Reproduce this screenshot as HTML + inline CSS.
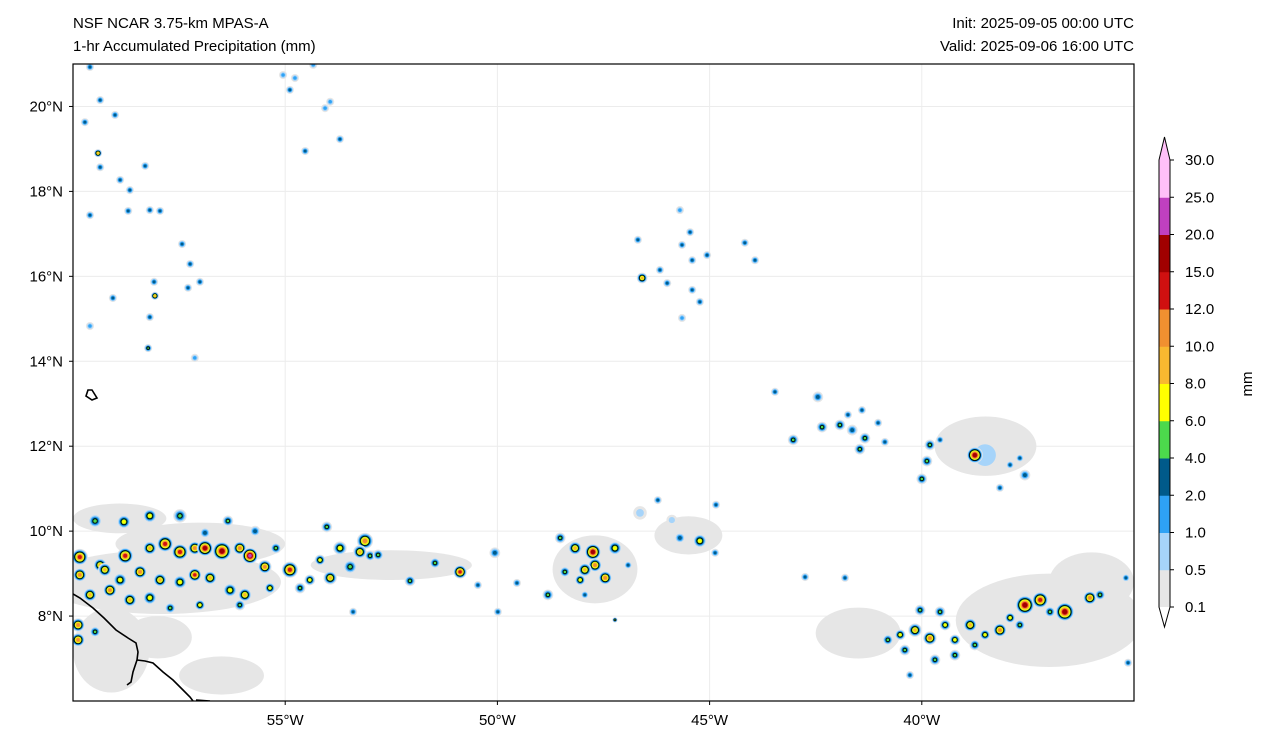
<!DOCTYPE html>
<html><head><meta charset="utf-8"><style>
body{margin:0;background:#fff;width:1268px;height:745px;overflow:hidden;font-family:"Liberation Sans",sans-serif}
svg text{font-family:"Liberation Sans",sans-serif;font-size:15px;fill:#000}
</style></head><body>
<svg id="c" width="1268" height="745"></svg>
<script>
const lonTicks=[-55,-50,-45,-40];
const latTicks=[8,10,12,14,16,18,20];
const cbLevels=[0.1,0.5,1,2,4,6,8,10,12,15,20,25,30];
const cbColors=["#e6e6e6","#a6d4fa","#2ea2f5","#005a8a","#4cd94c","#ffff00","#f8b830","#f09030","#d01010","#a00000","#c040c0","#ffc0f8"];
const stLon=[];const stLat=[];const stVal=[];const stSize=[];
const raw=[[95,521,5,5],[124,522,6,5],[150,516,6,5],[180,516,5,5],[205,533,3,4],[228,521,5,4],[255,531,3,4],[276,548,5,4],
[80,557,13,6],[100,565,8,5],[125,556,12,6],[150,548,8,5],[165,544,14,6],[180,552,12,6],[195,548,10,5],[205,548,16,6],[222,551,16,7],[240,548,10,5],[250,556,20,6],[265,567,10,5],[290,570,12,6],
[80,575,10,5],[105,570,8,5],[120,580,6,5],[140,572,10,5],[160,580,8,5],[180,582,6,5],[195,575,12,5],[210,578,8,5],[230,590,6,5],[245,595,8,5],[270,588,6,4],
[90,595,8,5],[110,590,10,5],[130,600,8,5],[150,598,6,5],[170,608,5,4],[200,605,6,4],[240,605,5,4],[78,625,10,5],[78,640,10,5],[95,632,5,4],
[327,527,5,4],[365,541,10,6],[340,548,6,5],[360,552,8,5],[370,556,5,4],[320,560,6,4],[350,567,5,5],[310,580,6,4],[330,578,8,5],[300,588,5,4],[378,555,5,4],[410,581,5,4],[353,612,3,3],
[435,563,5,4],[460,572,14,5],[478,585,3,3],[495,553,3,4],[517,583,3,3],[498,612,3,3],
[560,538,5,4],[575,548,8,5],[593,552,16,6],[615,548,6,5],[595,565,10,5],[585,570,8,5],[605,578,10,5],[580,580,6,4],[565,572,5,4],[548,595,5,4],[585,595,3,3],[628,565,3,3],[615,620,4,2],
[658,500,3,3],[680,538,3,4],[700,541,6,5],[716,505,3,3],[715,553,3,3],[640,513,0.8,5],[672,520,0.8,4],
[775,392,3,3],[818,397,3,4],[793,440,5,4],[822,427,5,4],[840,425,5,4],[848,415,3,3],[862,410,3,3],[865,438,5,4],[878,423,3,3],[860,449,5,4],[852,430,3,4],[885,442,3,3],
[985,455,0.8,14],[930,445,5,4],[927,461,5,4],[940,440,3,3],[975,455,16,6],[922,479,5,4],[1000,488,3,3],[1010,465,3,3],[1025,475,3,4],[1020,458,3,3],
[888,640,5,4],[900,635,6,4],[915,630,8,5],[930,638,10,5],[945,625,6,4],[955,640,6,4],[970,625,8,5],[985,635,6,4],[1000,630,10,5],[1010,618,6,4],[1025,605,16,7],[1040,600,13,6],[1065,612,16,7],[1090,598,10,5],[1100,595,5,4],[920,610,5,4],[940,612,5,4],[905,650,5,4],[935,660,5,4],[955,655,5,4],[975,645,5,4],[1020,625,5,4],[1050,612,5,4],[1126,578,3,3],[1128,663,3,3],[910,675,3,3],
[642,278,8,4],[660,270,3,3],[667,283,3,3],[682,245,3,3],[690,232,3,3],[680,210,1,3],[692,260,3,3],[707,255,3,3],[745,243,3,3],[755,260,3,3],[692,290,2,3],[700,302,2,3],[682,318,1,3],[638,240,2,3],
[90,67,2,3],[100,100,2,3],[115,115,3,3],[85,122,3,3],[98,153,8,3],[100,167,3,3],[120,180,3,3],[145,166,3,3],[130,190,3,3],[128,211,3,3],[150,210,3,3],[160,211,2,3],[90,215,2,3],[182,244,3,3],[190,264,2,3],[154,282,3,3],[155,296,8,3],[113,298,3,3],[150,317,3,3],[148,348,5,3],[200,282,2,3],[188,288,2,3],[90,326,1,3],[195,358,1,3],[290,90,2,3],[295,78,1,3],[283,75,1,3],[305,151,2,3],[325,108,1,3],[340,139,3,3],[330,102,1,3],[313,65,1,3],[805,577,2,3],[845,578,2,3]];
raw.forEach(r=>{stLon.push(+(-60+(r[0]-73)/42.44).toFixed(2));stLat.push(+(21-(r[1]-64)/42.47).toFixed(2));stVal.push(r[2]);stSize.push(+(r[3]/42.4).toFixed(3));});
const grLon=[-58.9,-57,-57.9,-59.1,-56.5,-58,-47.7,-45.5,-38.5,-37,-36,-41.5,-52.5];
const grLat=[10.3,9.7,8.8,7.2,6.6,7.5,9.1,9.9,12,7.9,8.8,7.6,9.2];
const grW=[1.1,2.0,2.8,0.9,1.0,0.8,1.0,0.8,1.2,2.2,1.0,1.0,1.9];
const grH=[0.35,0.5,0.75,1.0,0.45,0.5,0.8,0.45,0.7,1.1,0.7,0.6,0.35];

const NS="http://www.w3.org/2000/svg",svg=document.getElementById('c');
const X0=73,X1=1134,Y0=64,Y1=701;
const xS=lon=>X0+(lon+60)/25*(X1-X0);
const yS=lat=>Y0+(21-lat)/15*(Y1-Y0);
function el(t,a,p){const e=document.createElementNS(NS,t);for(const k in a)e.setAttribute(k,a[k]);(p||svg).appendChild(e);return e;}
const defs=el('defs',{});const cp=el('clipPath',{id:'clip'},defs);el('rect',{x:X0,y:Y0,width:X1-X0,height:Y1-Y0},cp);
const map=el('g',{'clip-path':'url(#clip)'});


lonTicks.forEach(v=>{const l=el('line',{x1:xS(v),x2:xS(v),y1:Y0,y2:Y1,stroke:'#ececec','stroke-width':1},map);

});
latTicks.forEach(v=>{const l=el('line',{x1:X0,x2:X1,y1:yS(v),y2:yS(v),stroke:'#ececec','stroke-width':1},map);

});
grLon.forEach((v,i)=>{const e=el('ellipse',{cx:xS(v),cy:yS(grLat[i]),rx:grW[i]*42.44,ry:grH[i]*42.47,fill:cbColors[0]},map);

});
const ppd=42.44;
stLon.forEach((v,i)=>{
  const val=stVal[i],cx=xS(v),cy=yS(stLat[i]),R=stSize[i]*ppd;
  let K=0;for(let k=0;k<cbLevels.length-1;k++)if(val>=cbLevels[k])K=k;
  const g=el('g',{},map);
  
  
  for(let k=0;k<=K;k++){
    const r=Math.max(1,R*(1.35-1.15*k/(K+1)));
    const a={cx,cy,r,fill:cbColors[k]};
    if(k===4){a.stroke='#000';a['stroke-width']=0.8;}
    el('circle',a,g);
  }
});
const coast=el('path',{d:'M73,594 L80,598 L93,608 L104,618 L116,630 L128,638 L136,643 L138,652 L137,660 L133,672 L131,682 L127,685 M137,660 L145,661 L153,663 L163,672 L173,680 L183,690 L190,697 L193,701 M196,700 L210,701 M88,390 L86,396 L92,400 L97,398 L92,390 Z',fill:'none',stroke:'#000','stroke-width':1.6},map);


const fr=el('rect',{x:X0,y:Y0,width:X1-X0,height:Y1-Y0,fill:'none',stroke:'#000','stroke-width':1.2});


lonTicks.forEach(v=>{el('line',{x1:xS(v),x2:xS(v),y1:Y1,y2:Y1+4,stroke:'#000'});
const t=el('text',{x:xS(v),y:Y1+24,'text-anchor':'middle'});t.textContent=(-v)+'°W';

});
latTicks.forEach(v=>{el('line',{x1:X0-4,x2:X0,y1:yS(v),y2:yS(v),stroke:'#000'});
const t=el('text',{x:X0-10,y:yS(v)+5,'text-anchor':'end'});t.textContent=v+'°N';

});
[[73,28,'start','NSF NCAR 3.75-km MPAS-A','model-title'],[73,51,'start','1-hr Accumulated Precipitation (mm)','variable-title'],[1134,28,'end','Init: 2025-09-05 00:00 UTC','init-time'],[1134,51,'end','Valid: 2025-09-06 16:00 UTC','valid-time']].forEach(a=>{
const t=el('text',{x:a[0],y:a[1],'text-anchor':a[2]});t.textContent=a[3];

});
const CB0=1159,CB1=1170,CT=160,CBt=607,n=cbLevels.length-1,h=(CBt-CT)/n;
const cb=el('g',{});


for(let k=0;k<n;k++){el('rect',{x:CB0,y:CBt-(k+1)*h,width:CB1-CB0,height:h+0.5,fill:cbColors[k]},cb);}
el('path',{d:`M${CB0},${CBt} L${(CB0+CB1)/2},627 L${CB1},${CBt} Z`,fill:'#fff',stroke:'none'},cb);
el('path',{d:`M${CB0},${CT} L${(CB0+CB1)/2},137 L${CB1},${CT} Z`,fill:'#ffc0f8'},cb);
el('path',{d:`M${CB0},${CT} L${(CB0+CB1)/2},137 L${CB1},${CT} L${CB1},${CBt} L${(CB0+CB1)/2},627 L${CB0},${CBt} Z`,fill:'none',stroke:'#000','stroke-width':1},cb);
cbLevels.forEach((v,k)=>{const y=CBt-k*h;el('line',{x1:CB1,x2:CB1+4,y1:y,y2:y,stroke:'#000'},cb);
const t=el('text',{x:CB1+15,y:y+5},cb);t.textContent=v.toFixed(1);

});
const u=el('text',{x:1252,y:384,'text-anchor':'middle',transform:'rotate(-90 1252 384)'});u.textContent='mm';


</script>
</body></html>
